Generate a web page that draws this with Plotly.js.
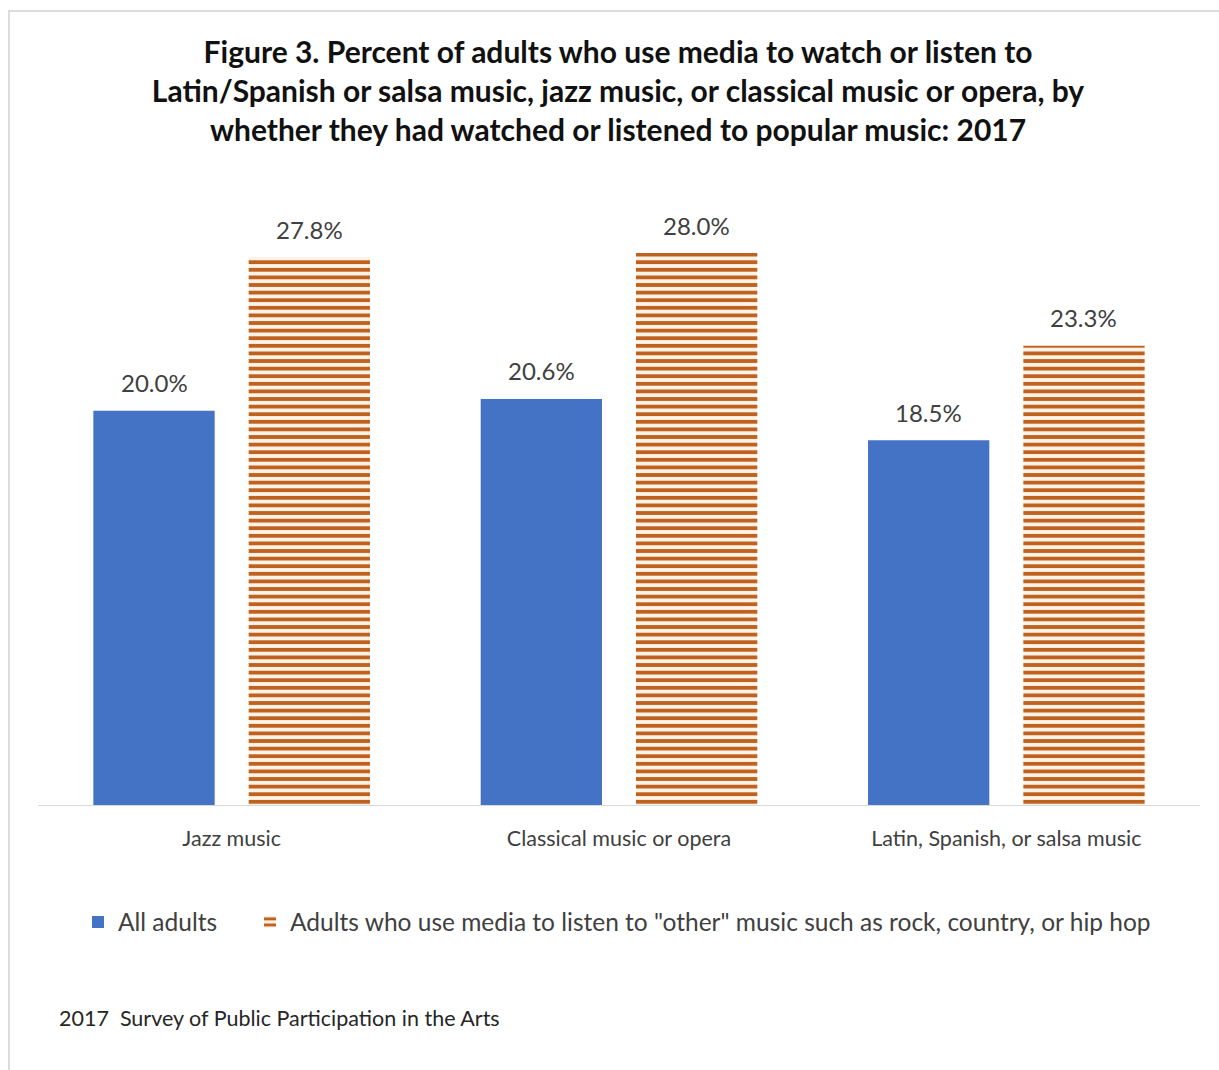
<!DOCTYPE html>
<html>
<head>
<meta charset="utf-8">
<script src="https://cdn.plot.ly/plotly-3.0.1.min.js"></script>
<style>
html,body{margin:0;padding:0;background:#fff;}
#chart{width:1219px;height:1070px;position:absolute;left:0;top:0;}
#frame{position:absolute;left:8px;top:10px;width:1230px;height:1080px;border-left:2px solid #dcdcdc;border-top:2px solid #dcdcdc;pointer-events:none;}
</style>
</head>
<body>
<div id="chart"></div>
<div id="frame"></div>
<script>
const categories = ["Jazz music", "Classical music or opera", "Latin, Spanish, or salsa music"];
const allAdults = [20.0, 20.6, 18.5];
const otherMusicAdults = [27.8, 28.0, 23.3];
const seriesNames = ["All adults", "Adults who use media to listen to \"other\" music such as rock, country, or hip hop"];
const titleText = "Figure 3. Percent of adults who use media to watch or listen to<br>Latin/Spanish or salsa music, jazz music, or classical music or opera, by<br>whether they had watched or listened to popular music: 2017";
const sourceText = "2017  Survey of Public Participation in the Arts";

const fontFam = "Lato, 'Open Sans', sans-serif";
const labelColor = "#404040";

const traces = [
  {
    type: "bar", name: seriesNames[0], x: categories, y: allAdults,
    marker: {color: "#4472C4", line: {width: 0}},
    legend: "legend", hoverinfo: "skip"
  },
  {
    type: "bar", name: seriesNames[1], x: categories, y: otherMusicAdults,
    marker: {color: "#C0621F", line: {width: 0},
      pattern: {shape: "-", fgcolor: "#C0621F", bgcolor: "#FFF3E8", size: 7.6, solidity: 0.5, fillmode: "replace"}},
    legend: "legend2", hoverinfo: "skip"
  }
];

const annotations = [];
const groupShift = 77.5;
[allAdults, otherMusicAdults].forEach((vals, si) => {
  vals.forEach((v, i) => {
    annotations.push({
      x: categories[i], y: v, xref: "x", yref: "y",
      text: v.toFixed(1) + "%", showarrow: false,
      xshift: si === 0 ? -groupShift : groupShift, yshift: 28,
      font: {family: fontFam, size: 24, color: labelColor}
    });
  });
});
annotations.push({
  text: sourceText, xref: "paper", yref: "paper",
  x: (57 - 38) / 1162, y: -(1018 - 805) / 615,
  xanchor: "left", yanchor: "middle", showarrow: false,
  font: {family: fontFam, size: 21.5, color: "#262626"}
});

const legendFont = {family: fontFam, size: 24.5, color: labelColor};
const legendY = -(922 - 805) / 615;

const layout = {
  width: 1219, height: 1070,
  margin: {l: 38, r: 19, t: 190, b: 265},
  paper_bgcolor: "#fff", plot_bgcolor: "#fff",
  title: {
    text: titleText, x: 0.507, xanchor: "center",
    y: 1 - 63 / 1070, yanchor: "middle", yref: "container",
    font: {family: fontFam, size: 30, color: "#111", weight: "bold"}
  },
  barmode: "group", bargap: 0.198, bargroupgap: 0.219,
  xaxis: {
    type: "category", showline: true, linecolor: "#d9d9d9", linewidth: 1,
    ticks: "", showgrid: false, zeroline: false, ticklabelstandoff: 14,
    tickfont: {family: fontFam, size: 21.5, color: labelColor}
  },
  yaxis: {range: [0, 31.2], visible: false, showgrid: false, zeroline: false},
  showlegend: true,
  legend: {
    orientation: "h", x: (78 - 38) / 1162, xanchor: "left",
    y: legendY, yanchor: "middle", font: legendFont,
    itemclick: false, itemdoubleclick: false
  },
  legend2: {
    orientation: "h", x: (250 - 38) / 1162, xanchor: "left",
    y: legendY, yanchor: "middle", font: legendFont,
    itemclick: false, itemdoubleclick: false
  },
  annotations: annotations
};

Plotly.newPlot("chart", traces, layout, {displayModeBar: false, staticPlot: true});
</script>
</body>
</html>
